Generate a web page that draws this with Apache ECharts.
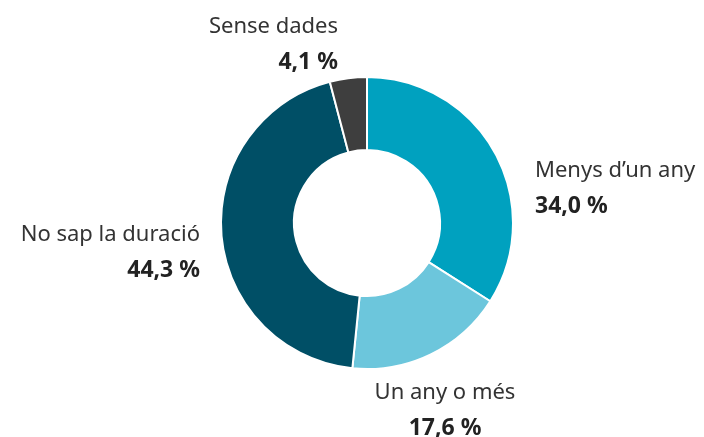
<!DOCTYPE html>
<html>
<head>
  <meta charset="UTF-8">
  <title>Durada</title>
  <script src="https://cdn.jsdelivr.net/npm/echarts@6/dist/echarts.min.js"></script>
  <style>
    html, body { margin: 0; padding: 0; background: #fff; }
    #main { width: 704px; height: 437px; }
  </style>
</head>
<body>
<div id="main"></div>
<script>
  // dades
  let categories = ['Menys d\u2019un any', 'Un any o més', 'No sap la duració', 'Sense dades'];
  let values = [34.0, 17.6, 44.3, 4.1];
  let pctLabels = ['34,0 %', '17,6 %', '44,3 %', '4,1 %'];
  let colors = ['#00a1bf', '#6cc6dc', '#004f66', '#3e3e3e'];

  // posicio de les etiquetes (x, y del centre vertical, alineacio)
  let labelPos = [
    [535, 189, 'left'],
    [445, 411, 'center'],
    [200, 253, 'right'],
    [338, 45, 'right']
  ];

  let myChart = echarts.init(document.getElementById('main'), null, {renderer: 'canvas'});
  let option = {
    animation: false,
    series: [{
      type: 'pie',
      center: [367, 223],
      radius: [73, 146],
      startAngle: 90,
      clockwise: true,
      itemStyle: {
        borderColor: '#fff',
        borderWidth: 2,
      },
      labelLine: { show: false },
      label: {
        show: true,
        position: 'outside',
        overflow: 'none',
        fontFamily: 'Noto Sans',
        formatter: function (p) {
          return '{n|' + p.name + '}\n{v|' + pctLabels[p.dataIndex] + '}';
        },
        rich: {
          n: { fontSize: 22, color: '#333', lineHeight: 34, fontFamily: 'Noto Sans' },
          v: { fontSize: 23, color: '#222', fontWeight: 'bold', lineHeight: 36, fontFamily: 'Noto Sans' },
        },
      },
      labelLayout: function (params) {
        let lp = labelPos[params.dataIndex];
        return { x: lp[0], y: lp[1], align: lp[2], verticalAlign: 'middle' };
      },
      data: categories.map(function (c, i) {
        return {
          name: c,
          value: values[i],
          itemStyle: { color: colors[i] },
          label: { align: labelPos[i][2] },
        };
      }),
    }],
  };
  myChart.setOption(option);
</script>
</body>
</html>
